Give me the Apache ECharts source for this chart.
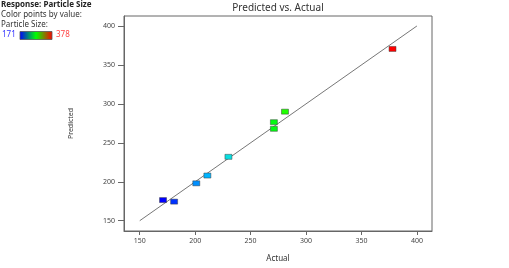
<!DOCTYPE html>
<html><head><meta charset="utf-8">
<script src="https://cdn.jsdelivr.net/npm/echarts@6/dist/echarts.min.js"></script>
<style>html,body{margin:0;padding:0;background:#fff}#c{width:509px;height:268px}</style>
</head><body><div id="c"></div>
<script>
const actual = [171, 181, 201, 211, 230, 271, 271, 281, 378];
const predicted = [176.5, 174.5, 198, 208, 232, 276.5, 268, 290, 370.5];
const tickValues = [150, 200, 250, 300, 350, 400];
const refLine = [[150, 150], [400, 400]];
const colorMin = 171, colorMax = 378;

const font = 'Noto Sans';
const chart = echarts.init(document.getElementById('c'), null, {renderer: 'canvas'});
chart.setOption({
  animation: false,
  backgroundColor: '#fff',
  title: {
    text: 'Predicted vs. Actual', left: 278, top: 3, padding: 0, textAlign: 'center',
    textStyle: {fontFamily: font, fontSize: 10, fontWeight: 'normal', color: '#333'}
  },
  grid: {left: 124, top: 16, right: 77, bottom: 37, show: true, borderColor: '#666', borderWidth: 1, backgroundColor: 'transparent'},
  xAxis: {
    type: 'value', min: 135.8, max: 413.6,
    name: 'Actual', nameLocation: 'middle', nameGap: 24,
    nameTextStyle: {fontFamily: font, fontSize: 8, color: '#333'},
    splitLine: {show: false},
    axisLine: {show: true, lineStyle: {color: '#666', width: 1}},
    axisTick: {show: true, length: 4, lineStyle: {color: '#666'}, customValues: tickValues},
    axisLabel: {fontFamily: font, fontSize: 7, color: '#444', margin: 6, customValues: tickValues}
  },
  yAxis: {
    type: 'value', min: 136.8, max: 412.8,
    name: 'Predicted', nameLocation: 'middle', nameGap: 50, nameRotate: 90,
    nameTextStyle: {fontFamily: font, fontSize: 7, color: '#333'},
    splitLine: {show: false},
    axisLine: {show: true, lineStyle: {color: '#666', width: 1}},
    axisTick: {show: true, length: 6, lineStyle: {color: '#666'}, customValues: tickValues},
    axisLabel: {fontFamily: font, fontSize: 7, color: '#444', margin: 9, customValues: tickValues}
  },
  visualMap: {
    type: 'continuous', show: false, seriesIndex: 1, dimension: 0,
    min: colorMin, max: colorMax,
    inRange: {color: ['#0000ff', '#0080ff', '#00e0ff', '#20d890', '#00ff00', '#80ff00', '#ffff00', '#ff8000', '#ff0000']}
  },
  graphic: [
    {type: 'text', left: 1, top: 1, style: {text: 'Response: Particle Size', font: 'bold 8px "Noto Sans"', fill: '#222'}},
    {type: 'text', left: 1, top: 11, style: {text: 'Color points by value:', font: '8px "Noto Sans"', fill: '#333'}},
    {type: 'text', left: 1, top: 21, style: {text: 'Particle Size:', font: '8px "Noto Sans"', fill: '#333'}},
    {type: 'text', left: 2, top: 31, style: {text: String(colorMin), font: '8px "Noto Sans"', fill: '#3333ff'}},
    {type: 'rect', shape: {x: 20, y: 31.5, width: 32, height: 8},
      style: {stroke: '#555', lineWidth: 0.8,
        fill: new echarts.graphic.LinearGradient(0, 0, 1, 0, [
          {offset: 0, color: '#0000ff'}, {offset: 0.5, color: '#00ff00'}, {offset: 1, color: '#ff0000'}])}},
    {type: 'text', left: 56, top: 31, style: {text: String(colorMax), font: '8px "Noto Sans"', fill: '#ff4444'}}
  ],
  series: [
    {type: 'line', data: refLine, symbol: 'none', silent: true,
      lineStyle: {color: '#777', width: 1}, z: 1},
    {type: 'scatter', data: actual.map((a, i) => [a, predicted[i]]),
      symbol: 'rect', symbolSize: [7, 5],
      itemStyle: {borderColor: 'rgba(60,60,60,0.6)', borderWidth: 0.8, opacity: 1}, z: 2}
  ]
});
</script></body></html>
